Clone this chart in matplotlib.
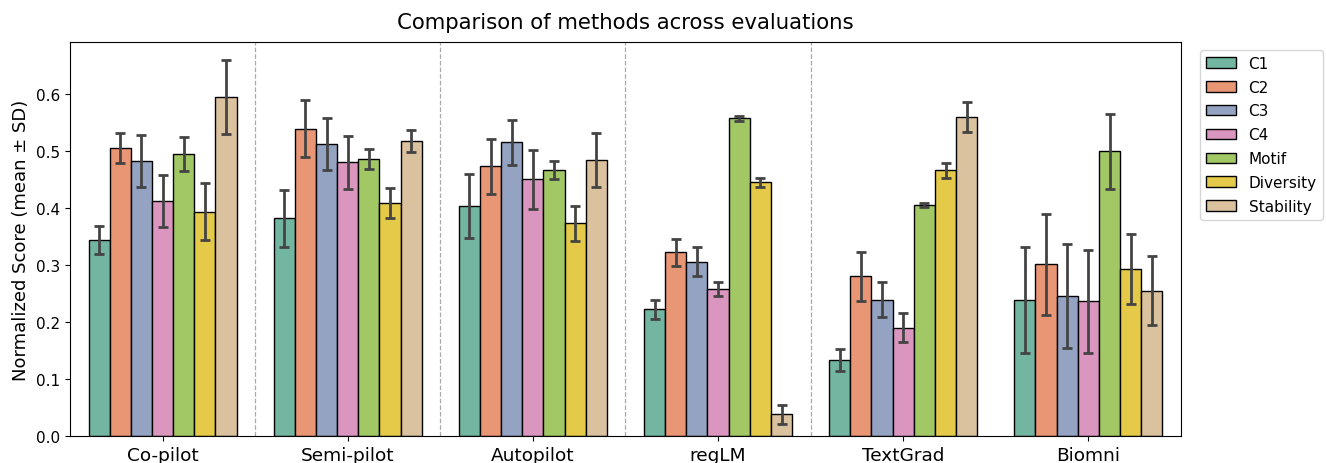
import numpy as np
import matplotlib
matplotlib.use("Agg")
import matplotlib.pyplot as plt
import seaborn as sns

# Methods and evaluation metrics
methods = ['Co-pilot', 'Semi-pilot', 'Autopilot', 'regLM', 'TextGrad', 'Biomni']
metrics = ['C1', 'C2', 'C3', 'C4', 'Motif', 'Diversity', 'Stability']

# mean scores, one list per metric (ordered by method)
c1_mean = [0.344, 0.382, 0.403, 0.222, 0.133, 0.239]
c2_mean = [0.505, 0.539, 0.473, 0.322, 0.280, 0.301]
c3_mean = [0.482, 0.512, 0.515, 0.306, 0.239, 0.245]
c4_mean = [0.412, 0.480, 0.450, 0.258, 0.190, 0.236]
motif_mean = [0.494, 0.486, 0.466, 0.557, 0.405, 0.499]
diversity_mean = [0.393, 0.409, 0.373, 0.445, 0.466, 0.293]
stability_mean = [0.595, 0.517, 0.484, 0.038, 0.559, 0.255]

# standard deviations
c1_sd = [0.025, 0.050, 0.056, 0.017, 0.019, 0.093]
c2_sd = [0.027, 0.050, 0.048, 0.023, 0.043, 0.088]
c3_sd = [0.046, 0.046, 0.040, 0.026, 0.031, 0.091]
c4_sd = [0.045, 0.047, 0.052, 0.012, 0.026, 0.091]
motif_sd = [0.030, 0.017, 0.016, 0.005, 0.004, 0.065]
diversity_sd = [0.050, 0.026, 0.031, 0.008, 0.013, 0.061]
stability_sd = [0.065, 0.019, 0.047, 0.017, 0.026, 0.060]

means = [c1_mean, c2_mean, c3_mean, c4_mean, motif_mean, diversity_mean, stability_mean]
sds = [c1_sd, c2_sd, c3_sd, c4_sd, motif_sd, diversity_sd, stability_sd]

colors = sns.color_palette("Set2", len(metrics), desat=0.75)

fig = plt.figure(figsize=(13.26, 4.64), dpi=100)
ax = fig.add_axes([0.0528, 0.0582, 0.8378, 0.8491])

x = np.arange(len(methods))
n = len(metrics)
width = 0.8 / n

for i, m in enumerate(metrics):
    pos = x - 0.4 + width * (i + 0.5)
    ax.bar(pos, means[i], width, color=colors[i], edgecolor='black',
           linewidth=1, label=m, zorder=2)
    ax.errorbar(pos, means[i], yerr=sds[i], fmt='none', ecolor='#444444',
                elinewidth=2, capsize=3.3, capthick=2, zorder=3)

# dashed separators between groups
for k in range(len(methods) - 2):
    ax.axvline(k + 0.5, color='#aaaaaa', linestyle='--', linewidth=0.9, zorder=1)

ax.set_xlim(-0.5, len(methods) - 0.5)
ax.set_ylim(0, 0.691)
ax.set_xticks(x)
ax.set_xticklabels(methods, fontsize=13.3)
ax.set_yticks(np.arange(0, 0.61, 0.1))
ax.tick_params(axis='y', labelsize=11)
ax.set_ylabel('Normalized Score (mean ± SD)', fontsize=13)
ax.set_title('Comparison of methods across evaluations', fontsize=15.3, pad=10)

ax.legend(loc='upper left', bbox_to_anchor=(1.01, 1.0), fontsize=11,
          handlelength=2.0, labelspacing=0.58)

fig.savefig('out.png', dpi=100)
